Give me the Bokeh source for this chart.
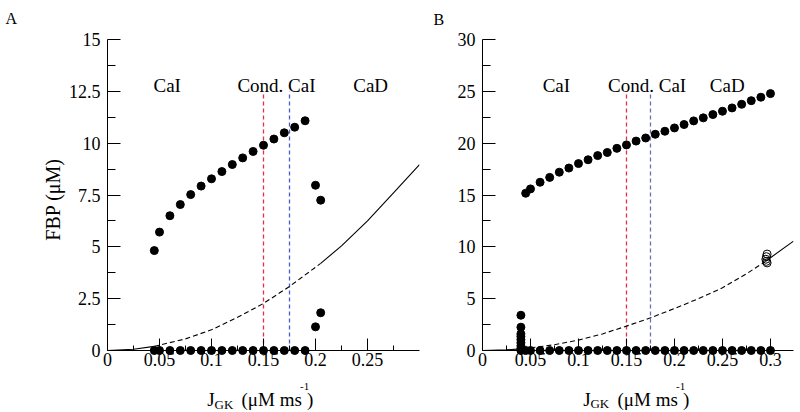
import math
from bokeh.plotting import figure
from bokeh.layouts import row
from bokeh.models import FixedTicker
from bokeh.core.properties import value
from bokeh.embed import file_html
from bokeh.resources import INLINE

# ---------------- Panel A data ----------------
a_osc_J = [0.045, 0.05, 0.06, 0.07, 0.08, 0.09, 0.10, 0.11, 0.12, 0.13,
           0.14, 0.15, 0.16, 0.17, 0.18, 0.19, 0.20, 0.205]
a_osc_max = [4.82, 5.71, 6.50, 7.04, 7.52, 7.93, 8.28, 8.63, 8.97, 9.29,
             9.60, 9.90, 10.20, 10.50, 10.77, 11.08, 7.97, 7.25]
a_osc_min = [0, 0, 0, 0, 0, 0, 0, 0, 0, 0,
             0, 0, 0, 0, 0, 0, 1.14, 1.82]
a_ss_J = [0, 0.025, 0.045, 0.075, 0.1, 0.125, 0.15, 0.175, 0.205, 0.225, 0.25, 0.275, 0.30]
a_ss_F = [0, 0.06, 0.20, 0.56, 1.00, 1.60, 2.27, 3.09, 4.20, 5.05, 6.25, 7.60, 8.97]
a_unstable = (0.045, 0.205)
a_xticks = [0, 0.05, 0.1, 0.15, 0.2, 0.25]
a_xtick_labels = ["0", "0.05", "0.1", "0.15", "0.2", "0.25"]
a_xminor = [0.025, 0.075, 0.125, 0.175, 0.225, 0.275]
a_yticks = [0, 2.5, 5, 7.5, 10, 12.5, 15]
a_ytick_labels = ["0", "2.5", "5", "7.5", "10", "12.5", "15"]
a_yminor = [1.25, 3.75, 6.25, 8.75, 11.25, 13.75]
a_bound_top = 12.5

# ---------------- Panel B data ----------------
b_osc_J = [0.045, 0.05, 0.06, 0.07, 0.08, 0.09, 0.10, 0.11, 0.12, 0.13, 0.14,
           0.15, 0.16, 0.17, 0.18, 0.19, 0.20, 0.21, 0.22, 0.23, 0.24, 0.25,
           0.26, 0.27, 0.28, 0.29, 0.30]
b_osc_max = [15.17, 15.59, 16.23, 16.70, 17.20, 17.60, 18.03, 18.40, 18.80, 19.10, 19.50,
             19.83, 20.20, 20.50, 20.86, 21.15, 21.47, 21.80, 22.15, 22.44, 22.76, 23.08,
             23.40, 23.75, 24.10, 24.43, 24.78]
b_osc_min = [0] * 27
b_burst_J = [0.04, 0.04, 0.04, 0.04, 0.04, 0.04, 0.04, 0.04, 0.04]
b_burst_F = [3.40, 2.25, 1.60, 1.35, 1.05, 0.75, 0.45, 0.20, 0]
b_open_J = [0.2965, 0.2958, 0.2952, 0.2958, 0.2965]
b_open_F = [9.30, 9.05, 8.80, 8.60, 8.45]
b_ss_J = [0, 0.025, 0.04, 0.05, 0.075, 0.1, 0.125, 0.15, 0.175, 0.2, 0.225, 0.25, 0.275, 0.295, 0.3, 0.324]
b_ss_F = [0, 0.06, 0.16, 0.25, 0.56, 1.00, 1.60, 2.35, 3.15, 4.05, 5.00, 6.05, 7.40, 8.60, 8.95, 10.55]
b_unstable = (0.05, 0.295)
b_xticks = [0, 0.05, 0.1, 0.15, 0.2, 0.25, 0.3]
b_xtick_labels = ["0", "0.05", "0.1", "0.15", "0.2", "0.25", "0.3"]
b_xminor = [0.025, 0.075, 0.125, 0.175, 0.225, 0.275]
b_yticks = [0, 5, 10, 15, 20, 25, 30]
b_ytick_labels = ["0", "5", "10", "15", "20", "25", "30"]
b_yminor = [2.5, 7.5, 12.5, 17.5, 22.5, 27.5]
b_bound_top = 25

# region boundaries and names (shared)
bounds_J = [0.15, 0.175]
region_names = ["CaI", "Cond. CaI", "CaD"]

FONT = "Liberation Serif"
RED = "#e3304a"
H = 412


def make_panel(width, left, right, x_end, y_end, xt, xl, xm, yt, yl, ym):
    p = figure(width=width, height=H, x_range=(0, x_end), y_range=(0, y_end),
               output_backend="svg", toolbar_location=None,
               min_border_left=left, min_border_right=right,
               min_border_top=39, min_border_bottom=H - 350)
    p.grid.visible = False
    p.outline_line_color = None
    p.background_fill_color = "white"
    p.border_fill_color = "white"
    p.xaxis.ticker = FixedTicker(ticks=xt, minor_ticks=xm)
    p.xaxis.major_label_overrides = {t: l for t, l in zip(xt, xl)}
    p.yaxis.ticker = FixedTicker(ticks=yt, minor_ticks=ym)
    p.yaxis.major_label_overrides = {t: l for t, l in zip(yt, yl)}
    for ax in (p.xaxis, p.yaxis):
        ax.axis_line_color = "black"
        ax.major_tick_line_color = "black"
        ax.minor_tick_line_color = "black"
        ax.major_tick_out = 0
        ax.minor_tick_out = 0
        ax.major_label_text_font = FONT
        ax.major_label_text_font_size = "18px"
        ax.major_label_text_color = "black"
    p.xaxis.major_tick_in = 12
    p.xaxis.minor_tick_in = 5
    p.yaxis.major_tick_in = 13
    p.yaxis.minor_tick_in = 8
    p.xaxis.major_label_standoff = 2
    p.yaxis.major_label_standoff = 7
    return p


def draw_curve(p, J, F, unstable):
    lo, hi = unstable
    seg1 = [(j, f) for j, f in zip(J, F) if j <= lo]
    seg2 = [(j, f) for j, f in zip(J, F) if lo <= j <= hi]
    seg3 = [(j, f) for j, f in zip(J, F) if j >= hi]
    for seg, dash in ((seg1, "solid"), (seg2, "5 3"), (seg3, "solid")):
        p.line([s[0] for s in seg], [s[1] for s in seg], line_color="black",
               line_width=1.1, line_dash=dash)


def label(p, x, y, txt, size, align="left", baseline="alphabetic", angle=0.0):
    p.text(x=[x], y=[y], text=[txt], text_font=value(FONT), text_font_size=size,
           text_align=align, text_baseline=baseline, angle=angle,
           text_color="black", level="overlay")


def x_title(p, xs, base, sub_base, sup_base):
    parts = [("J", xs[0], base, "19px"), ("GK", xs[1], sub_base, "13px"),
             ("(μM ms", xs[2], base, "19px"), ("-1", xs[3], sup_base, "11px"),
             (")", xs[4], base, "19px")]
    for txt, x, y, size in parts:
        label(p, x, y, txt, size)


# ---------------- Panel A ----------------
pa = make_panel(420, 107, 1, 0.30, 15, a_xticks, a_xtick_labels, a_xminor,
                a_yticks, a_ytick_labels, a_yminor)
pa.segment(x0=bounds_J, y0=[0, 0], x1=bounds_J, y1=[a_bound_top] * 2,
           line_color=[RED, "#4a5ccc"], line_width=1.3, line_dash="4 3")
draw_curve(pa, a_ss_J, a_ss_F, a_unstable)
pa.scatter(a_osc_J, a_osc_max, size=8, color="black", level="overlay")
pa.scatter(a_osc_J, a_osc_min, size=8, color="black", level="overlay")
pa.text(x=[0.0574, 0.1625, 0.253], y=[12.78] * 3, text=region_names,
        text_font=value(FONT), text_font_size="19px", text_align="center",
        text_baseline="alphabetic", text_color="black")
ax_px = lambda px: (px - 107) / 1040
ay_px = lambda py: (350 - py) / 20.73
x_title(pa, [ax_px(206.7), ax_px(214), ax_px(241), ax_px(299.5), ax_px(306.5)],
        ay_px(399), ay_px(403.5), ay_px(386))
label(pa, ax_px(5), ay_px(18.5), "A", "16px")
label(pa, ax_px(52), ay_px(199), "FBP (μM)", "20px", align="center",
      baseline="middle", angle=math.pi / 2)

# ---------------- Panel B ----------------
pb = make_panel(380, 62, 7, 0.324, 30, b_xticks, b_xtick_labels, b_xminor,
                b_yticks, b_ytick_labels, b_yminor)
pb.segment(x0=bounds_J, y0=[0, 0], x1=bounds_J, y1=[b_bound_top] * 2,
           line_color=[RED, "#6a6fb5"], line_width=1.3, line_dash="4 3")
draw_curve(pb, b_ss_J, b_ss_F, b_unstable)
pb.scatter(b_osc_J, b_osc_max, size=8, color="black", level="overlay")
pb.scatter(b_osc_J, b_osc_min, size=8, color="black", level="overlay")
pb.scatter(b_burst_J, b_burst_F, size=8, color="black", level="overlay")
pb.scatter(b_open_J, b_open_F, size=8, fill_color=None, line_color="black",
           line_width=1, level="overlay")
pb.text(x=[0.077, 0.1715, 0.255], y=[25.55] * 3, text=region_names,
        text_font=value(FONT), text_font_size="19px", text_align="center",
        text_baseline="alphabetic", text_color="black")
bx_px = lambda px: (px - 482) / 960
by_px = lambda py: (350 - py) / 10.37
x_title(pb, [bx_px(582.7), bx_px(590), bx_px(617), bx_px(675.5), bx_px(682.5)],
        by_px(399), by_px(403.5), by_px(386))
label(pb, bx_px(433), by_px(18.5), "B", "16px")

layout = row(pa, pb)
open("out.html", "w").write(file_html(layout, INLINE))
